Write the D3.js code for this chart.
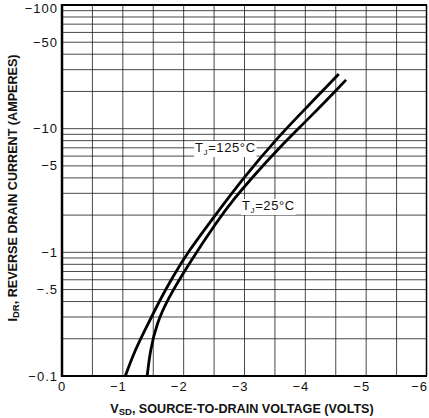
<!DOCTYPE html>
<html>
<head>
<meta charset="utf-8">
<script src="https://cdn.jsdelivr.net/npm/d3@7"></script>
<style>
  body { margin: 0; background: #fff; }
  svg { display: block; font-family: "Liberation Sans", Arial, sans-serif; }
  .grid line { stroke: #1a1a1a; stroke-width: 0.8; }
  .tick-label { font-size: 13px; fill: #111; letter-spacing: 1px; }
  .title { font-size: 12.6px; font-weight: bold; fill: #111; }
  .curve { fill: none; stroke: #000; stroke-width: 2.8; stroke-linejoin: round; }
  .note { font-size: 13px; fill: #111; letter-spacing: 0.6px; }
</style>
</head>
<body>
<div id="chart"></div>
<script>
// source-to-drain voltage (V) and reverse drain current (A)
const vsd125 = [-1.04, -1.20, -1.38, -1.61, -1.81, -2.07, -2.52, -2.98, -3.55, -4.03, -4.55];
const idr125 = [-0.1, -0.162, -0.244, -0.412, -0.62, -1.01, -2.00, -3.99, -8.56, -15.0, -27.7];
const vsd25 = [-1.40, -1.45, -1.56, -1.73, -2.05, -2.56, -2.84, -3.09, -3.58, -4.08, -4.67];
const idr25 = [-0.1, -0.162, -0.268, -0.412, -0.761, -1.82, -2.75, -3.85, -7.11, -12.4, -24.8];

const xTicks = [0, -1, -2, -3, -4, -5, -6];
const xTickLabels = ["0", "\u22121", "\u22122", "\u22123", "\u22124", "\u22125", "\u22126"];
const yTicks = [-100, -50, -10, -5, -1, -0.5, -0.1];
const yTickLabels = ["\u2212100", "\u221250", "\u221210", "\u22125", "\u22121", "\u2212.5", "\u22120.1"];

const width = 429, height = 418;
const margin = {top: 5, right: 2, bottom: 42, left: 62};

let svg = d3.select("#chart").append("svg")
    .attr("width", width)
    .attr("height", height);

let x = d3.scaleLinear()
    .domain([0, -6])
    .range([margin.left, width - margin.right]);
let y = d3.scaleLog()
    .domain([-0.1, -100])
    .range([height - margin.bottom, margin.top]);

// grid: every 0.5 V, and 1..9 per decade
let vLines = d3.range(1, 12).map(i => -i * 0.5);
let hLines = [];
[-0.1, -1, -10].forEach(dec => {
    for (let k = 2; k <= 9; ++k) hLines.push(dec * k);
});
hLines.push(-1, -10);

let grid = svg.append("g").attr("class", "grid");
grid.selectAll("line.v").data(vLines).enter().append("line")
    .attr("class", "v")
    .attr("x1", d => x(d)).attr("x2", d => x(d))
    .attr("y1", y(-100)).attr("y2", y(-0.1));
grid.selectAll("line.h").data(hLines).enter().append("line")
    .attr("class", "h")
    .attr("x1", x(0)).attr("x2", x(-6))
    .attr("y1", d => y(d)).attr("y2", d => y(d));

// frame
let frame = svg.append("g").attr("stroke", "#000").attr("fill", "none");
frame.append("line").attr("x1", x(0)).attr("x2", x(0)).attr("y1", y(-100) - 1).attr("y2", y(-0.1) + 1).attr("stroke-width", 2.5);
frame.append("line").attr("x1", x(0)).attr("x2", x(-6)).attr("y1", y(-0.1)).attr("y2", y(-0.1)).attr("stroke-width", 2);
frame.append("line").attr("x1", x(0)).attr("x2", x(-6)).attr("y1", y(-100)).attr("y2", y(-100)).attr("stroke-width", 2);
frame.append("line").attr("x1", x(-6) - 0.5).attr("x2", x(-6) - 0.5).attr("y1", y(-100)).attr("y2", y(-0.1)).attr("stroke-width", 1.5);

// curves
let line = d3.line()
    .x(d => x(d[0]))
    .y(d => y(d[1]))
    .curve(d3.curveBasis);

svg.append("path").attr("class", "curve")
    .attr("d", line(d3.zip(vsd125, idr125)));
svg.append("path").attr("class", "curve")
    .attr("d", line(d3.zip(vsd25, idr25)));

// curve labels with white backing
function tempLabel(xp, yp, temp) {
    let g = svg.append("g");
    let t = g.append("text").attr("class", "note")
        .attr("x", xp).attr("y", yp);
    t.append("tspan").text("T");
    t.append("tspan").attr("font-size", 8).attr("dy", 3).text("J");
    t.append("tspan").attr("dy", -3).text("=" + temp + "\u00b0C");
    let bb = t.node().getBBox();
    g.insert("rect", "text")
        .attr("x", bb.x - 1).attr("y", bb.y + 1)
        .attr("width", bb.width + 2).attr("height", bb.height - 1)
        .attr("fill", "#fff");
}
tempLabel(195, 152, "125");
tempLabel(242, 210, "25");

// tick labels
svg.selectAll("text.xt").data(xTicks).enter().append("text")
    .attr("class", "tick-label xt")
    .attr("x", d => d === 0 ? x(d) : Math.min(x(d) + 4, width - 1))
    .attr("y", y(-0.1) + 15)
    .attr("text-anchor", d => d === 0 ? "middle" : "end")
    .text((d, i) => xTickLabels[i]);

svg.selectAll("text.yt").data(yTicks).enter().append("text")
    .attr("class", "tick-label yt")
    .attr("x", x(0) - 4)
    .attr("y", d => Math.max(y(d) + 4.5, 13))
    .attr("text-anchor", "end")
    .text((d, i) => yTickLabels[i]);

// axis titles
let xt = svg.append("text").attr("class", "title")
    .attr("x", 242).attr("y", 413)
    .attr("font-size", 13)
    .attr("text-anchor", "middle");
xt.append("tspan").text("V");
xt.append("tspan").attr("font-size", 9.5).attr("dy", 2).text("SD");
xt.append("tspan").attr("dy", -2).text(", SOURCE-TO-DRAIN VOLTAGE (VOLTS)");

let yt = svg.append("text").attr("class", "title")
    .attr("transform", "translate(17,188) rotate(-90)")
    .attr("text-anchor", "middle");
yt.append("tspan").text("I");
yt.append("tspan").attr("font-size", 9.5).attr("dy", 2).text("DR");
yt.append("tspan").attr("dy", -2).text(", REVERSE DRAIN CURRENT (AMPERES)");
</script>
</body>
</html>
